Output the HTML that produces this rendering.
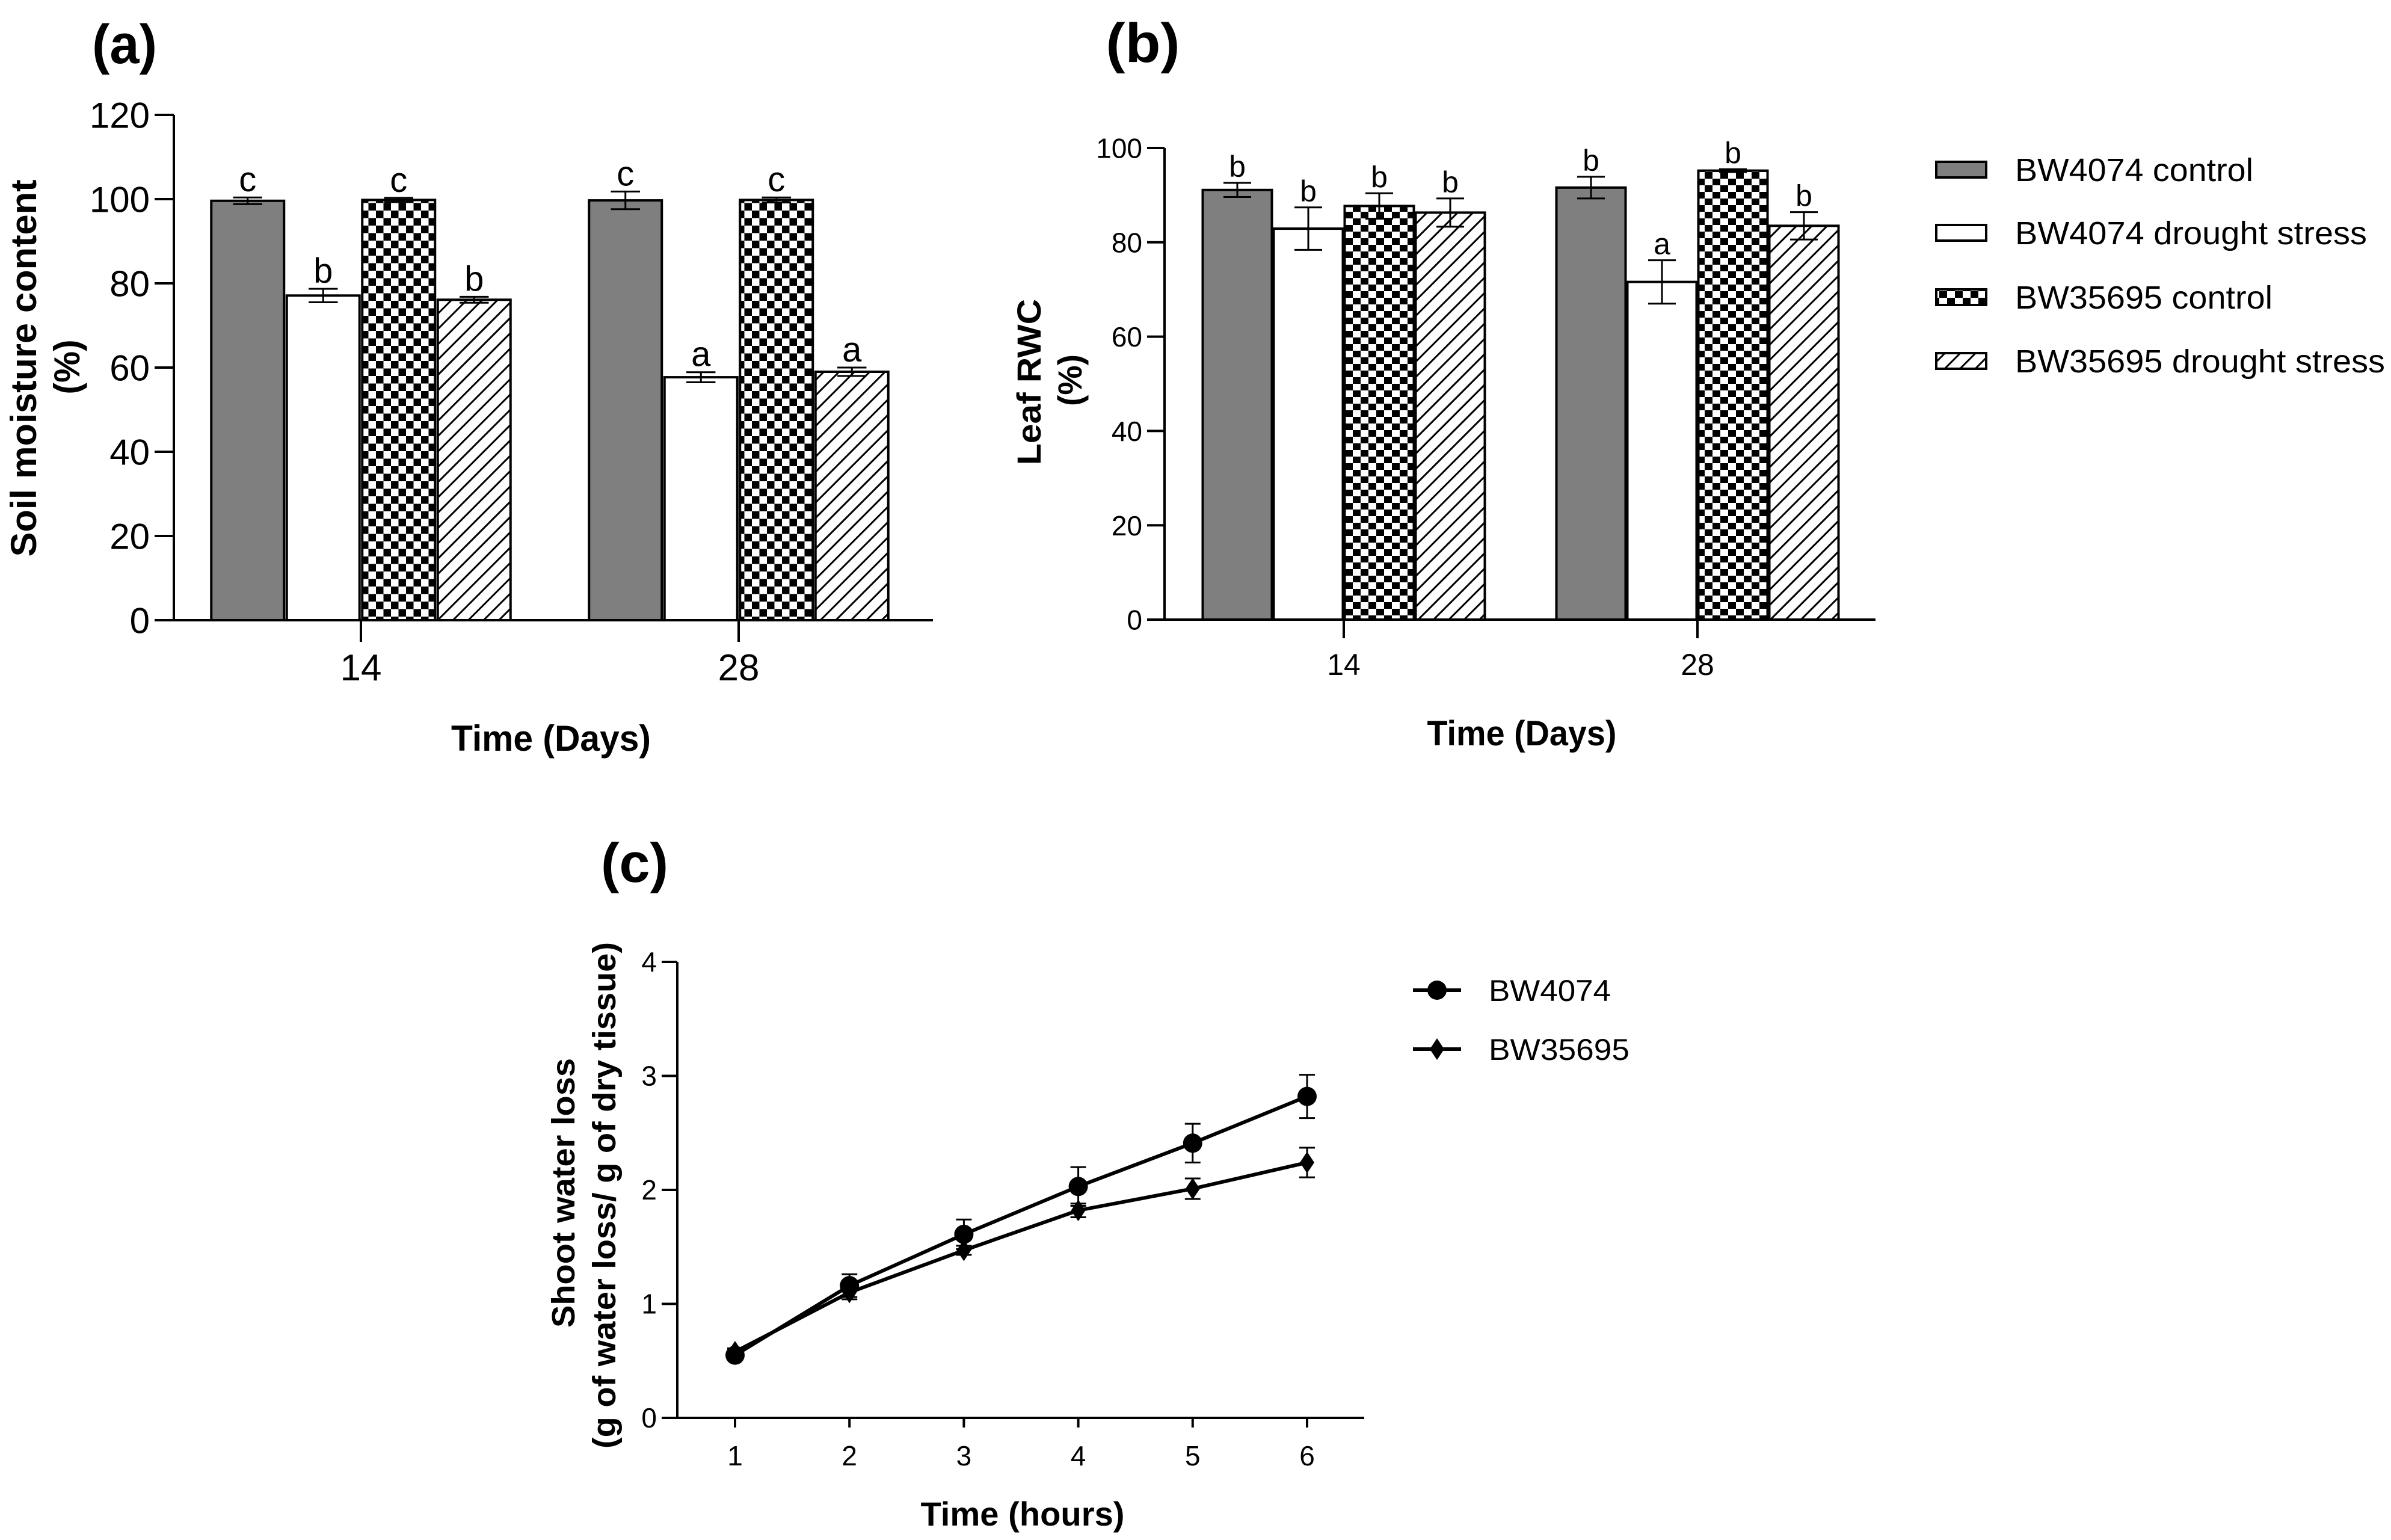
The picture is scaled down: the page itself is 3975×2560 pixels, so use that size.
<!DOCTYPE html>
<html><head><meta charset="utf-8"><style>
html,body{margin:0;padding:0;background:#fff;}
svg{display:block;font-family:"Liberation Sans",Arial,sans-serif;}
</style></head><body>
<svg id="fig" width="3975" height="2560" viewBox="0 0 3975 2560" xmlns="http://www.w3.org/2000/svg">
<defs>
<pattern id="chkA" width="25" height="25" patternUnits="userSpaceOnUse"><rect width="25" height="25" fill="#fff"/><rect width="12.5" height="12.5" fill="#000"/><rect x="12.5" y="12.5" width="12.5" height="12.5" fill="#000"/></pattern>
<pattern id="chkB" width="26" height="22" patternUnits="userSpaceOnUse"><rect width="26" height="22" fill="#fff"/><rect width="13" height="11" fill="#000"/><rect x="13" y="11" width="13" height="11" fill="#000"/></pattern>
<pattern id="hatch" width="18" height="18" patternUnits="userSpaceOnUse" patternTransform="rotate(45)"><rect width="18" height="18" fill="#fff"/><rect x="0" y="0" width="3" height="18" fill="#000"/></pattern>
</defs>
</svg>
<script>
const barCategories = ['14','28'];
const seriesNames = ['BW4074 control','BW4074 drought stress','BW35695 control','BW35695 drought stress'];
const aValues = [[99.6,77.1,99.8,76.1],[99.7,57.7,99.8,59.0]];
const aErrors = [[0.8,1.6,0.5,0.7],[2.1,1.2,0.6,1.0]];
const aLetters = [['c','b','c','b'],['c','a','c','a']];
const aTicks = [0,20,40,60,80,100,120];
const bValues = [[91.1,82.9,87.7,86.3],[91.6,71.6,95.2,83.5]];
const bErrors = [[1.5,4.5,2.7,3.0],[2.3,4.6,0.3,2.9]];
const bLetters = [['b','b','b','b'],['b','a','b','b']];
const bTicks = [0,20,40,60,80,100];
const cHours = [1,2,3,4,5,6];
const cBW4074 = [0.55,1.16,1.61,2.03,2.41,2.82];
const cBW4074Err = [0.03,0.10,0.13,0.17,0.17,0.19];
const cBW35695 = [0.58,1.10,1.47,1.82,2.01,2.24];
const cBW35695Err = [0.03,0.06,0.04,0.06,0.09,0.13];
const cYTicks = [0,1,2,3,4];

const NS='http://www.w3.org/2000/svg';
const svg=document.getElementById('fig');
function el(tag,attrs,parent){const e=document.createElementNS(NS,tag);for(const k in attrs)e.setAttribute(k,attrs[k]);(parent||svg).appendChild(e);return e;}
function txt(x,y,s,size,opts,parent){opts=opts||{};
 const t=el('text',{x:x,y:y,'font-size':size,'text-anchor':opts.anchor||'middle','font-weight':opts.bold?'bold':'normal',fill:'#000'},parent);
 if(opts.w){t.setAttribute('textLength',opts.w);t.setAttribute('lengthAdjust','spacingAndGlyphs');}
 if(opts.rot)t.setAttribute('transform','rotate(-90 '+x+' '+y+')');
 t.textContent=s;return t;}
function line(x1,y1,x2,y2,w,parent){return el('line',{x1:x1,y1:y1,x2:x2,y2:y2,stroke:'#000','stroke-width':w||4},parent);}

const fills=a=>['#7f7f7f','#fff',a?'url(#chkA)':'url(#chkB)','url(#hatch)'];

function barPanel(cfg){
 const g=el('g',{});
 
 
 const Y=v=>cfg.y0-(v-0)*(cfg.y0-cfg.yTop)/cfg.yMax;
 const ya=line(cfg.ax,cfg.yTop,cfg.ax,cfg.y0,4,g);
 
 
 const xa=line(cfg.ax-cfg.tl,cfg.y0,cfg.xEnd,cfg.y0,4,g);
 
 
 cfg.ticks.forEach(v=>{line(cfg.ax-cfg.tl,Y(v),cfg.ax,Y(v),4,g);
  const t=txt(cfg.ax-cfg.tl-8,Y(v)+cfg.tf*0.36,String(v),cfg.tf,{anchor:'end'},g);
  
  });
 barCategories.forEach((c,gi)=>{
  const cx=cfg.cats[gi];
  line(cx,cfg.y0,cx,cfg.y0+cfg.xtl,4,g);
  const t=txt(cx,cfg.y0+cfg.xlabY,c,cfg.xf,{},g);
  
  
  cfg.values[gi].forEach((v,si)=>{
   const x=cx-2*cfg.step+si*cfg.step+(cfg.step-cfg.bw)/2;
   const r=el('rect',{x:x,y:Y(v),width:cfg.bw,height:cfg.y0-Y(v),fill:fills(cfg.a)[si],stroke:'#000','stroke-width':4},g);
   
   
   const e=cfg.errors[gi][si],mx=x+cfg.bw/2,hw=cfg.bw*0.2;
   line(mx,Y(v+e),mx,Y(v-e),3,g);line(mx-hw,Y(v+e),mx+hw,Y(v+e),3,g);line(mx-hw,Y(v-e),mx+hw,Y(v-e),3,g);
   const l=txt(mx,Y(v+e)-10,cfg.letters[gi][si],cfg.lf,{},g);
   
   
  });
 });
}
barPanel({name:'panel-a-soil-moisture',a:true,ax:289,yTop:191,y0:1031,yMax:120,xEnd:1551,tl:32,xtl:36,ticks:aTicks,tf:60,xf:62,lf:58,
 cats:[600,1228],step:125.5,bw:121,values:aValues,errors:aErrors,letters:aLetters,xlabY:100});
barPanel({name:'panel-b-leaf-rwc',a:false,ax:1936,yTop:246,y0:1030,yMax:100,xEnd:3118,tl:29,xtl:31,ticks:bTicks,tf:46,xf:50,lf:50,
 cats:[2234,2822],step:118,bw:115,values:bValues,errors:bErrors,letters:bLetters,xlabY:92});

let t;
t=txt(207,105,'(a)',92,{bold:true,w:108});
t=txt(1900,103,'(b)',92,{bold:true,w:123});
t=txt(1055,1466,'(c)',92,{bold:true,w:112});
t=txt(60,612,'Soil moisture content',60,{bold:true,rot:true,w:627});
t=txt(132,610,'(%)',60,{bold:true,rot:true,w:91});
t=txt(916,1248,'Time (Days)',60,{bold:true,w:332});
t=txt(1730,635,'Leaf RWC',56,{bold:true,rot:true,w:276});
t=txt(1798,632,'(%)',56,{bold:true,rot:true,w:86});
t=txt(2530,1239,'Time (Days)',58,{bold:true,w:315});

const legY=[282,387,494,600];
seriesNames.forEach((n,i)=>{
 const r=el('rect',{x:3219,y:legY[i]-13,width:83,height:26,fill:fills(false)[i],stroke:'#000','stroke-width':4});
 
 
 const w=[396,585,428,615][i];
 const tt=txt(3350,legY[i]+19,n,54,{anchor:'start',w:w});
 
 
});

const cg=el('g',{});


const CX=h=>1222+(h-1)*190.2, CY=v=>2357-v*189.5;
line(1126,1599,1126,2357,4,cg);line(1100,2357,2268,2357,4,cg);
cYTicks.forEach(v=>{line(1100,CY(v),1126,CY(v),4,cg);const q=txt(1092,CY(v)+16,String(v),46,{anchor:'end'},cg);
 
 });
cHours.forEach(h=>{line(CX(h),2357,CX(h),2373,4,cg);const q=txt(CX(h),2436,String(h),46,{},cg);
 
 });
function series(vals,errs,marker,name){
 const p=el('polyline',{points:vals.map((v,i)=>CX(cHours[i])+','+CY(v)).join(' '),fill:'none',stroke:'#000','stroke-width':6},cg);
 
 
 vals.forEach((v,i)=>{const x=CX(cHours[i]);const e=errs[i];
  line(x,CY(v+e),x,CY(v-e),3,cg);line(x-13,CY(v+e),x+13,CY(v+e),3,cg);line(x-13,CY(v-e),x+13,CY(v-e),3,cg);
  let m;
  if(marker==='c')m=el('circle',{cx:x,cy:CY(v),r:16,fill:'#000'},cg);
  else m=el('polygon',{points:x+','+(CY(v)-18)+' '+(x+12)+','+CY(v)+' '+x+','+(CY(v)+18)+' '+(x-12)+','+CY(v),fill:'#000'},cg);
  
  
 });
}
series(cBW35695,cBW35695Err,'d','bw35695');
series(cBW4074,cBW4074Err,'c','bw4074');
line(2349,1646,2429,1646,6,cg);el('circle',{cx:2389,cy:1646,r:16,fill:'#000'},cg);
line(2349,1744,2429,1744,6,cg);el('polygon',{points:'2389,1726 2401,1744 2389,1762 2377,1744',fill:'#000'},cg);
t=txt(2475,1664,'BW4074',50,{anchor:'start',w:203},cg);
t=txt(2475,1762,'BW35695',50,{anchor:'start',w:234},cg);
t=txt(955,1983,'Shoot water loss',54,{bold:true,rot:true,w:448});
t=txt(1023,1987,'(g of water loss/ g of dry tissue)',54,{bold:true,rot:true,w:842});
t=txt(1700,2536,'Time (hours)',56,{bold:true,w:339});
</script>
</body></html>
